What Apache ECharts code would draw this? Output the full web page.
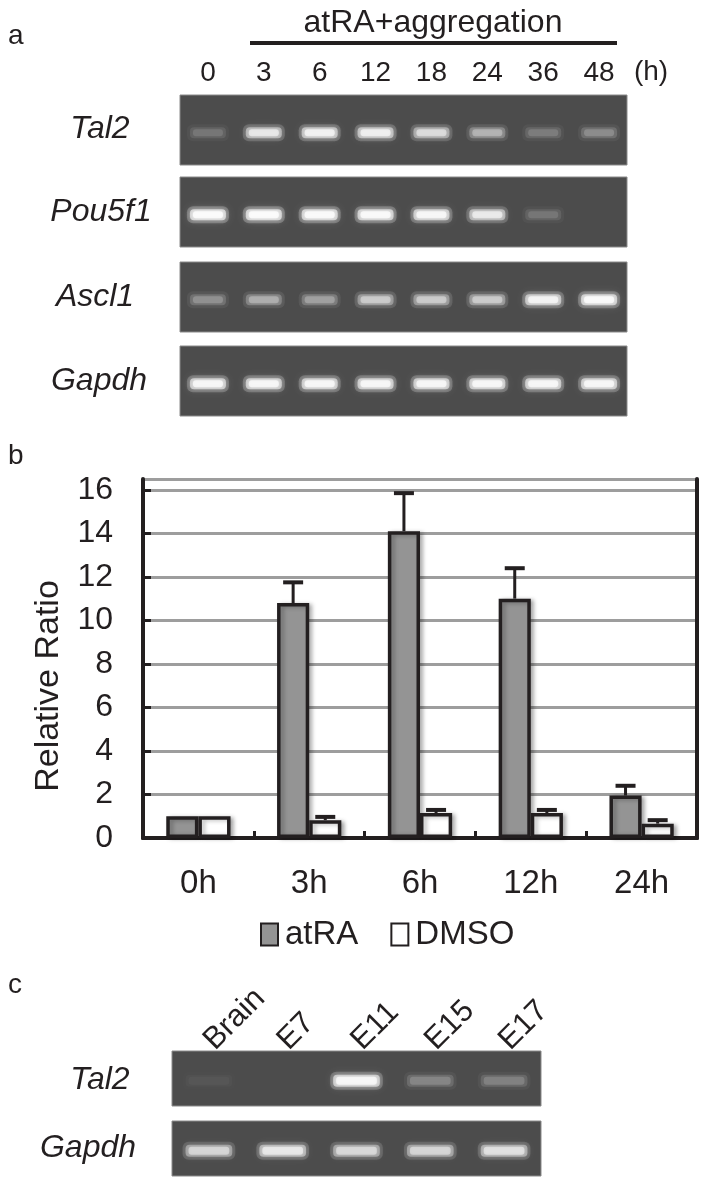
<!DOCTYPE html>
<html><head><meta charset="utf-8">
<script src="https://cdn.jsdelivr.net/npm/echarts@6/dist/echarts.min.js"></script>
<style>html,body{margin:0;padding:0;background:#fff}#c{width:707px;height:1184px}</style>
</head><body><div id="c"></div>
<script>
// ---------- DATA ----------
// Panel a: RT-PCR band intensities (0 = none, 1 = saturated)
const laneHoursA = ['0', '3', '6', '12', '18', '24', '36', '48'];
const genesA = ['Tal2', 'Pou5f1', 'Ascl1', 'Gapdh'];
const tal2A   = [0.16, 0.72, 0.82, 0.80, 0.62, 0.40, 0.18, 0.24];
const pou5f1A = [1.00, 1.00, 0.97, 0.95, 0.90, 0.74, 0.16, 0.00];
const ascl1A  = [0.26, 0.38, 0.32, 0.52, 0.52, 0.52, 0.85, 0.95];
const gapdhA  = [0.90, 0.90, 0.90, 0.90, 0.90, 0.90, 0.90, 0.90];
// Panel b: qPCR relative ratio
const timeCats = ['0h', '3h', '6h', '12h', '24h'];
const atraMean = [1.0, 10.8, 14.1, 11.0, 1.95];
const atraErr  = [0, 0.95, 1.75, 1.4, 0.45];
const dmsoMean = [1.0, 0.82, 1.15, 1.15, 0.66];
const dmsoErr  = [0, 0.15, 0.14, 0.14, 0.16];
const seriesNames = ['atRA', 'DMSO'];
const yAxisTitle = 'Relative Ratio';
// Panel c: tissue RT-PCR
const tissueLanes = ['Brain', 'E7', 'E11', 'E15', 'E17'];
const genesC = ['Tal2', 'Gapdh'];
const tal2C  = [0.04, 0.00, 0.90, 0.22, 0.20];
const gapdhC = [0.58, 0.72, 0.60, 0.58, 0.66];

// ---------- STYLE / LAYOUT ----------
const FONT = "'Liberation Sans', Arial, Helvetica, sans-serif";
const INK = '#231f20';
const GEL_BG = '#4c4c4c';
const BAR_FRAC = 0.29;

const gelGridsA = [95, 177, 262, 346].map(t => ({left: 180, width: 447, top: t, height: 70}));
const gelGridsC = [1051, 1121].map(t => ({left: 172, width: 369, top: t, height: 55}));
const barGrid = {left: 143, right: 10, top: 479, bottom: 346};

const grids = [];
gelGridsA.concat(gelGridsC).forEach(g => grids.push(Object.assign({
  show: true, backgroundColor: GEL_BG, borderColor: '#8a8a8a', borderWidth: 1
}, g)));
grids.push(Object.assign({show: false}, barGrid));

const xAxes = [], yAxes = [], series = [];

function bandRenderer(widthFrac, bandH) {
  return function (params, api) {
    const a = api.value(1);
    if (a <= 0.01) return null;
    const c = api.coord([api.value(0), 0.46]);
    const w = api.size([1, 0])[0] * widthFrac;
    const wa = 'rgba(255,255,255,';
    return {
      type: 'group',
      children: [
        {type: 'rect', shape: {x: c[0] - w / 2 - 2, y: c[1] - bandH / 2 - 2, width: w + 4, height: bandH + 4, r: 6},
          style: {fill: wa + (a * 0.22) + ')', shadowBlur: 10, shadowColor: wa + (a * 0.45) + ')'}},
        {type: 'rect', shape: {x: c[0] - w / 2 + 1, y: c[1] - bandH / 2 + 1, width: w - 2, height: bandH - 2, r: 4},
          style: {fill: wa + (a * 0.6) + ')', shadowBlur: 5, shadowColor: wa + (a * 0.7) + ')'}},
        {type: 'rect', shape: {x: c[0] - w / 2 + 4, y: c[1] - bandH / 2 + 3, width: w - 8, height: bandH - 6, r: 3},
          style: {fill: wa + (a * 0.75) + ')', shadowBlur: 3, shadowColor: wa + (a * 0.6) + ')'}}
      ]
    };
  };
}

const gelRowsA = [tal2A, pou5f1A, ascl1A, gapdhA];
gelRowsA.forEach((row, i) => {
  xAxes.push({
    type: 'category', gridIndex: i, data: laneHoursA, position: 'top',
    axisLine: {show: false}, axisTick: {show: false},
    axisLabel: {show: i === 0, fontSize: 28, color: INK, fontFamily: FONT, margin: 8}
  });
  yAxes.push({type: 'value', gridIndex: i, min: 0, max: 1, show: false});
  series.push({
    type: 'custom', xAxisIndex: i, yAxisIndex: i, silent: true,
    renderItem: bandRenderer(0.68, 13),
    data: row.map((v, k) => [k, v])
  });
});
const gelRowsC = [tal2C, gapdhC];
gelRowsC.forEach((row, j) => {
  const i = 4 + j;
  xAxes.push({
    type: 'category', gridIndex: i, data: tissueLanes, position: 'top',
    axisLine: {show: false}, axisTick: {show: false},
    axisLabel: {show: j === 0, rotate: 45, fontSize: 31, color: INK, fontFamily: FONT, margin: 6}
  });
  yAxes.push({type: 'value', gridIndex: i, min: 0, max: 1, show: false});
  series.push({
    type: 'custom', xAxisIndex: i, yAxisIndex: i, silent: true,
    renderItem: bandRenderer(0.66, 14),
    data: row.map((v, k) => [k, v])
  });
});

// bar chart axes
xAxes.push({
  type: 'category', gridIndex: 6, data: timeCats, position: 'bottom',
  axisLine: {show: true, lineStyle: {color: INK, width: 4}},
  axisTick: {show: true, inside: true, length: 7, lineStyle: {color: INK, width: 3}},
  axisLabel: {fontSize: 33, color: INK, fontFamily: FONT, margin: 29}
});
xAxes.push({
  type: 'category', gridIndex: 6, data: timeCats, position: 'top',
  axisLine: {show: true, lineStyle: {color: INK, width: 4}},
  axisTick: {show: false}, axisLabel: {show: false}
});
yAxes.push({
  type: 'value', gridIndex: 6, min: 0, max: 16.5, interval: 2, position: 'left',
  axisLine: {show: true, lineStyle: {color: INK, width: 4}},
  axisTick: {show: true, inside: true, length: 8, lineStyle: {color: INK, width: 3}},
  axisLabel: {fontSize: 32, color: INK, fontFamily: FONT, margin: 30, showMaxLabel: false},
  splitLine: {show: true, lineStyle: {color: '#9d9d9d', width: 3}}
});
yAxes.push({
  type: 'value', gridIndex: 6, min: 0, max: 16.5, position: 'right',
  axisLine: {show: true, lineStyle: {color: INK, width: 4}},
  axisTick: {show: false}, axisLabel: {show: false}, splitLine: {show: false}
});

const barShadow = {shadowColor: 'rgba(0,0,0,0.28)', shadowBlur: 4, shadowOffsetX: 3, shadowOffsetY: 1};
series.push({
  name: seriesNames[0], type: 'bar', xAxisIndex: 6, yAxisIndex: 6,
  barWidth: (BAR_FRAC * 100) + '%', barGap: '0%', data: atraMean,
  itemStyle: Object.assign({color: '#949494', borderColor: INK, borderWidth: 3.5}, barShadow)
});
series.push({
  name: seriesNames[1], type: 'bar', xAxisIndex: 6, yAxisIndex: 6,
  barWidth: (BAR_FRAC * 100) + '%', barGap: '0%', data: dmsoMean,
  itemStyle: Object.assign({color: '#ffffff', borderColor: INK, borderWidth: 3.5}, barShadow)
});

function errRenderer(sign) {
  return function (params, api) {
    const i = api.value(0), m = api.value(1), top = api.value(2);
    if (top <= m) return null;
    const bw = api.size([1, 0])[0] * BAR_FRAC;
    const x = api.coord([i, 0])[0] + sign * bw / 2;
    const y0 = api.coord([i, m])[1];
    const y1 = api.coord([i, top])[1];
    return {
      type: 'group',
      children: [
        {type: 'line', shape: {x1: x, y1: y0, x2: x, y2: y1}, style: {stroke: INK, lineWidth: 3}},
        {type: 'line', shape: {x1: x - 10, y1: y1, x2: x + 10, y2: y1}, style: {stroke: INK, lineWidth: 4}}
      ]
    };
  };
}
series.push({
  type: 'custom', xAxisIndex: 6, yAxisIndex: 6, silent: true, z: 5,
  renderItem: errRenderer(-1),
  data: atraMean.map((m, i) => [i, m, m + atraErr[i]])
});
series.push({
  type: 'custom', xAxisIndex: 6, yAxisIndex: 6, silent: true, z: 5,
  renderItem: errRenderer(1),
  data: dmsoMean.map((m, i) => [i, m, m + dmsoErr[i]])
});

function plainText(text, x, y, size, align, rot) {
  return {type: 'text', x: x, y: y, rotation: rot || 0,
    style: {text: text, font: size + 'px ' + FONT, fill: INK, textAlign: align || 'left', textVerticalAlign: 'middle'}};
}
function gLabel(text, x, y) {
  return {type: 'text', x: x, y: y,
    style: {text: text, font: 'italic 32px ' + FONT, fill: INK, textAlign: 'center', textVerticalAlign: 'middle'}};
}

const chart = echarts.init(document.getElementById('c'), null, {renderer: 'canvas'});
chart.setOption({
  animation: false,
  backgroundColor: '#ffffff',
  textStyle: {fontFamily: FONT},
  grid: grids, xAxis: xAxes, yAxis: yAxes, series: series,
  legend: {
    data: seriesNames, left: 255, top: 913, icon: 'rect',
    itemWidth: 17, itemHeight: 22, itemGap: 32,
    textStyle: {fontSize: 33, color: INK, fontFamily: FONT, padding: [0, 0, 0, 2]}
  },
  graphic: [
    plainText('a', 8, 36, 28),
    plainText('b', 8, 456, 28),
    plainText('c', 8, 985, 28),
    plainText('atRA+aggregation', 433, 23, 32, 'center'),
    {type: 'line', shape: {x1: 250, y1: 43, x2: 617, y2: 43}, style: {stroke: INK, lineWidth: 4}},
    plainText('(h)', 651, 72, 28, 'center'),
    plainText(yAxisTitle, 49, 686, 34, 'center', Math.PI / 2),
    gLabel(genesA[0], 100, 129),
    gLabel(genesA[1], 101, 212),
    gLabel(genesA[2], 95, 297),
    gLabel(genesA[3], 99, 381),
    gLabel(genesC[0], 100, 1080),
    gLabel(genesC[1], 88, 1148)
  ]
});
</script>
</body></html>
